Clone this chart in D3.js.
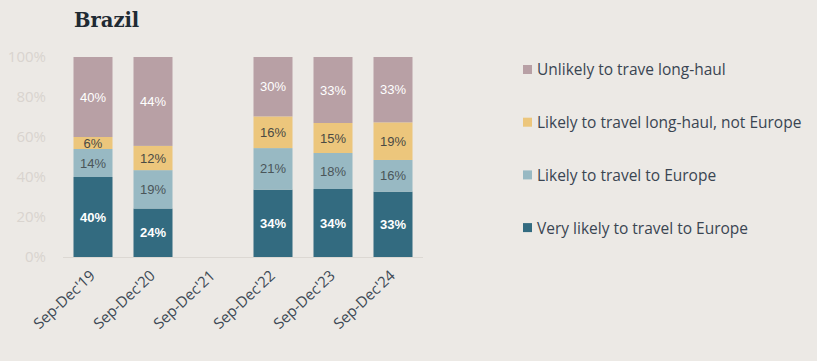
<!DOCTYPE html>
<html><head><meta charset="utf-8">
<script src="https://cdn.jsdelivr.net/npm/d3@7"></script>
<style>
html,body{margin:0;padding:0;background:#ece9e5;}
svg{display:block;}
</style></head>
<body>
<svg id="chart" width="817" height="361"></svg>
<script>
const title = "Brazil";
const categories = ["Sep-Dec'19","Sep-Dec'20","Sep-Dec'21","Sep-Dec'22","Sep-Dec'23","Sep-Dec'24"];
const seriesNames = ["Very likely to travel to Europe","Likely to travel to Europe","Likely to travel long-haul, not Europe","Unlikely to trave long-haul"];
const veryLikely   = [40, 24, null, 34, 34, 33];
const likely       = [14, 19, null, 21, 18, 16];
const longHaul     = [6, 12, null, 16, 15, 19];
const unlikely     = [40, 44, null, 30, 33, 33];
const yTicks = [0, 0.2, 0.4, 0.6, 0.8, 1.0];
const colors = ["#336b80", "#98b9c3", "#ecc67c", "#b8a0a5"];
const labelColors = ["#ffffff", "#4a5559", "#4a4a44", "#ffffff"];

const svg = d3.select("#chart");
const seriesVals = [veryLikely, likely, longHaul, unlikely];
const rows = categories.map((c,i)=>{
  const r = {cat:c};
  seriesNames.forEach((s,k)=>{ r[s] = seriesVals[k][i] == null ? 0 : seriesVals[k][i]; });
  return r;
});
const stack = d3.stack().keys(seriesNames).offset((series, order)=>{
  for (let j=0;j<series[0].length;j++){
    let sum=0; for (const i of order) sum += series[i][j][1]-series[i][j][0];
    if (sum===0) continue;
    let y=0;
    for (const i of order){ const v=(series[i][j][1]-series[i][j][0])/sum; series[i][j][0]=y; y+=v; series[i][j][1]=y; }
  }
});
const stacked = stack(rows);

const x = d3.scaleBand().domain(categories).range([63, 423]).paddingInner(0.35).paddingOuter(0.175);
const y = d3.scaleLinear().domain([0,1]).range([257, 57]);

svg.append("text").attr("x",74).attr("y",27).text(title)
  .attr("font-family","'DejaVu Serif', 'Liberation Serif', serif").attr("font-weight","bold")
  .attr("font-size",19.5).attr("fill","#1f2a33");

const yAxis = d3.axisLeft(y).tickValues(yTicks).tickFormat(d3.format(".0%")).tickSize(0).tickPadding(0);
const ya = svg.append("g").attr("transform","translate(46,0)").call(yAxis);
ya.select(".domain").remove();
ya.selectAll("text").attr("font-family","'Open Sans', sans-serif").attr("font-size",15).attr("fill","#d9d4cf");

svg.append("line").attr("x1",63).attr("x2",423).attr("y1",257.5).attr("y2",257.5).attr("stroke","#dcd8d3").attr("stroke-width",1);

stacked.forEach((s,k)=>{
  const g = svg.append("g");
  g.selectAll("rect").data(s.filter(d=>d[1]>d[0])).join("rect")
    .attr("x",d=>x(d.data.cat)).attr("width",x.bandwidth())
    .attr("y",d=>y(d[1])).attr("height",d=>y(d[0])-y(d[1]))
    .attr("fill",colors[k]);
  g.selectAll("text").data(s.filter(d=>d[1]>d[0])).join("text")
    .attr("x",d=>x(d.data.cat)+x.bandwidth()/2)
    .attr("y",d=>(y(d[0])+y(d[1]))/2)
    .attr("dy","0.35em").attr("text-anchor","middle")
    .attr("font-family","'Liberation Sans', Arial, sans-serif")
    .attr("font-size",13).attr("font-weight", k===0 ? "bold" : "normal")
    .attr("fill",labelColors[k])
    .text(d=>d.data[seriesNames[k]]+"%");
});

const xAxis = d3.axisBottom(x).tickSize(0).tickPadding(0);
const xa = svg.append("g").attr("transform","translate(-6,270)").call(xAxis);
xa.select(".domain").remove();
xa.selectAll("text")
  .attr("font-family","'Open Sans', sans-serif").attr("font-size",15).attr("fill","#3e4a55")
  .attr("text-anchor","end").attr("dy","0.75em")
  .attr("transform","rotate(-43) translate(2,0)");

const legendOrder = [3,2,1,0];
const lg = svg.append("g");
legendOrder.forEach((k,i)=>{
  const cy = 70 + i*52.7;
  lg.append("rect").attr("x",523).attr("y",cy-5).attr("width",9).attr("height",9).attr("fill",colors[k]);
  lg.append("text").attr("x",537).attr("y",cy).attr("dy","0.35em")
    .attr("font-family","'Open Sans', sans-serif").attr("font-size",15.5).attr("fill","#3a4552")
    .text(seriesNames[k]);
});
</script>
</body></html>
